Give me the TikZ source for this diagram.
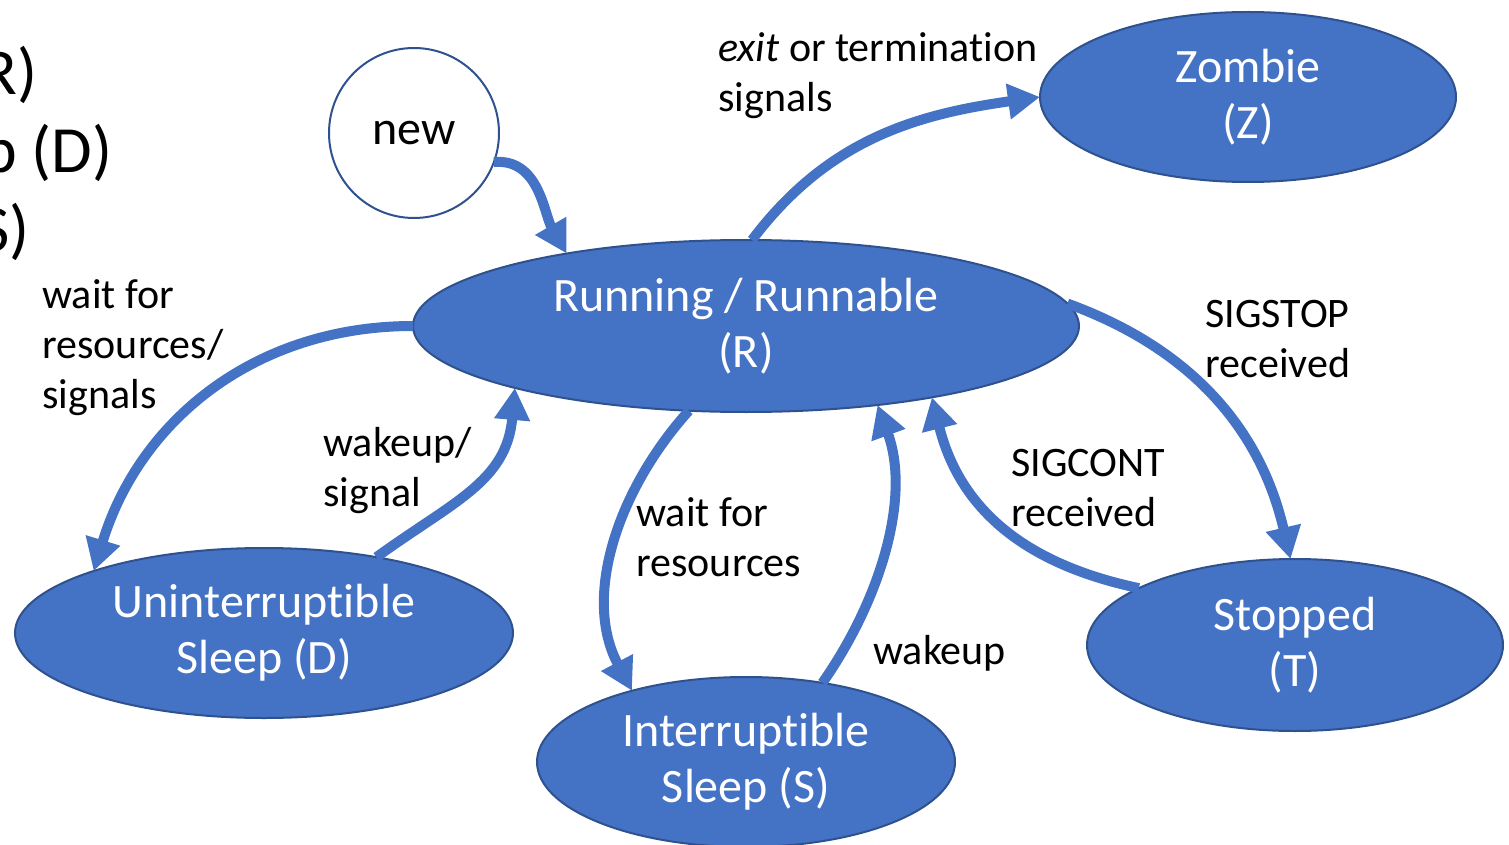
\documentclass[tikz,border=0pt]{standalone}
\usepackage{fontspec}
\setmainfont{Carlito}[Ligatures={NoCommon,NoContextual}]
\usetikzlibrary{arrows.meta,shapes.geometric}
\definecolor{myblue}{HTML}{4472C4}
\definecolor{myedge}{HTML}{2F528F}
\tikzset{
  state/.style={ellipse, draw=myedge, line width=1pt, fill=myblue, text=white,
    inner sep=0pt, outer sep=0pt, align=center, font=\fontsize{24pt}{28pt}\selectfont},
  flow/.style={line width=5pt, draw=myblue, -{Triangle[length=16pt,width=17pt]}},
  lbl/.style={anchor=base west, align=left, inner sep=0pt, text=black,
    font=\fontsize{21pt}{25pt}\selectfont},
  cut/.style={anchor=base east, inner sep=0pt, text=black,
    font=\fontsize{33pt}{40pt}\selectfont}
}
\begin{document}
\begin{tikzpicture}[x=0.5pt,y=-0.5pt]
\useasboundingbox (0,0) rectangle (1509,845);
\clip (0,0) rectangle (1509,845);
% cut-off text at left edge
\node[cut] (c1) at (38,95) {(R)};
\node[cut] (c2) at (113,173) {Sleep (D)};
\node[cut] (c3) at (30,252) {(S)};
% states
\node[circle, draw=myedge, line width=1pt, fill=white, minimum size=85pt, inner sep=0pt, outer sep=0pt,
  font=\fontsize{24pt}{28pt}\selectfont] (new) at (414,133) {new};
\node[state, minimum width=333pt, minimum height=86pt] (R) at (746,326) {Running / Runnable\\(R)};
\node[state, minimum width=208pt, minimum height=85pt] (Z) at (1248,97) {Zombie\\(Z)};
\node[state, minimum width=249pt, minimum height=85pt] (D) at (264,633) {Uninterruptible\\Sleep (D)};
\node[state, minimum width=209pt, minimum height=85pt] (S) at (746,762) {Interruptible\\Sleep (S)};
\node[state, minimum width=208pt, minimum height=86pt] (T) at (1295,645) {Stopped\\(T)};
% transitions
\draw[flow] (new.-20) to[out=5, in=120] (R.158);
\draw[flow] (R.86) to[out=53, in=188] (Z.180);
\draw[flow] (R.180) to[out=180, in=73] (D.160);
\draw[flow] (D.34) to[out=36, in=265, looseness=1.1] (R.195);
\draw[flow] (R.236.6) to[out=228, in=118, looseness=0.95] (S.148);
\draw[flow] (S.46.5) to[out=55, in=-70, looseness=0.9] (R.-31);
\draw[flow] (R.4) to[out=-20, in=103] (T.93);
\draw[flow] (T.160) to[out=168, in=-76, out looseness=0.75, in looseness=1.25] (R.-21.5);
% labels
\node[lbl] (l1) at (718,112) {\textit{exit} or termination\\signals};
\node[lbl] (l2) at (42,408) {wait for\\resources/\\signals};
\node[lbl] (l3) at (323,506) {wakeup/\\signal};
\node[lbl] (l4) at (636,576) {wait for\\resources};
\node[lbl] (l5) at (873,664) {wakeup};
\node[lbl] (l6) at (1011,526) {SIGCONT\\received};
\node[lbl] (l7) at (1205,377) {SIGSTOP\\received};
\end{tikzpicture}
\end{document}
